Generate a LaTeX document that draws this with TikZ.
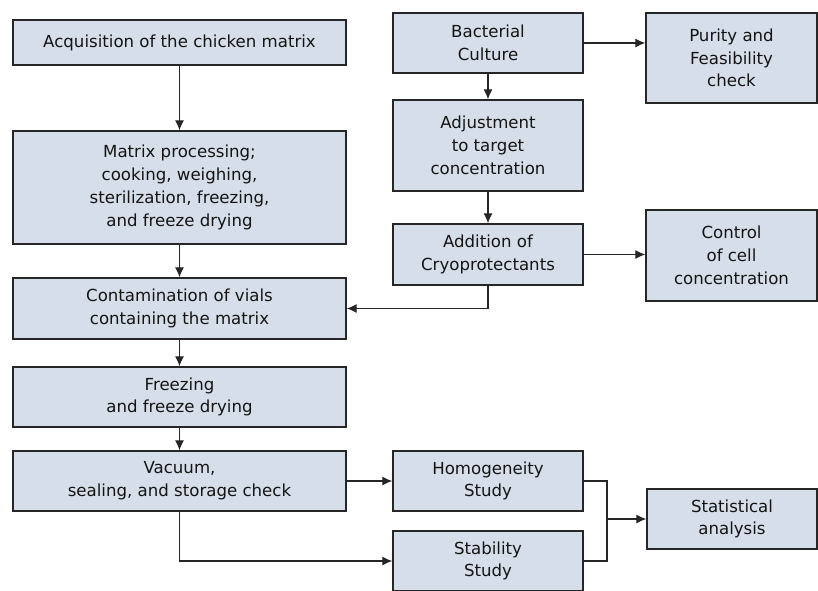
\documentclass[tikz,border=0pt]{standalone}
\usepackage{fontspec}
\setmainfont{DejaVu Sans}
\usetikzlibrary{arrows.meta}
\definecolor{boxfill}{HTML}{D6DFE9}
\definecolor{edge}{HTML}{262626}
\tikzset{
  bx/.style={draw=edge, fill=boxfill, line width=1.3pt, inner sep=0pt, align=center,
    font=\fontsize{16.6}{22.8}\selectfont, text=black!92},
  conn/.style={draw=edge, line width=1.2pt, -{Latex[length=10pt,width=9pt]}},
  plain/.style={draw=edge, line width=1.2pt}
}
\begin{document}
\begin{tikzpicture}[x=1pt,y=-1pt]
\useasboundingbox (0,0) rectangle (818,590);
\clip (0,0) rectangle (818,590);
\node[bx, minimum width=333, minimum height=45] (acq) at (179.5,42.5) {Acquisition of the chicken matrix};
\node[bx, minimum width=333, minimum height=113] (mat) at (179.5,187.5) {Matrix processing;\\cooking, weighing,\\sterilization, freezing,\\and freeze drying};
\node[bx, minimum width=333, minimum height=61] (cont) at (179.5,308.5) {Contamination of vials\\containing the matrix};
\node[bx, minimum width=333, minimum height=60] (frz) at (179.5,397) {Freezing\\and freeze drying};
\node[bx, minimum width=333, minimum height=60] (vac) at (179.5,481) {Vacuum,\\sealing, and storage check};
\node[bx, minimum width=190, minimum height=60] (bac) at (488,43) {Bacterial\\Culture};
\node[bx, minimum width=190, minimum height=91] (adj) at (488,145.5) {Adjustment\\to target\\concentration};
\node[bx, minimum width=190, minimum height=61] (add) at (488,254.5) {Addition of\\Cryoprotectants};
\node[bx, minimum width=190, minimum height=60] (hom) at (488,481) {Homogeneity\\Study};
\node[bx, minimum width=190, minimum height=60] (sta) at (488,561) {Stability\\Study};
\node[bx, minimum width=171, minimum height=90] (pur) at (731.5,58) {Purity and\\Feasibility\\check};
\node[bx, minimum width=171, minimum height=91] (ctl) at (731.5,255.5) {Control\\of cell\\concentration};
\node[bx, minimum width=170, minimum height=60] (stat) at (732,519) {Statistical\\analysis};
\draw[conn] (acq) -- (mat);
\draw[conn] (mat) -- (cont);
\draw[conn] (cont) -- (frz);
\draw[conn] (frz) -- (vac);
\draw[conn] (bac) -- (adj);
\draw[conn] (adj) -- (add);
\draw[conn] (bac.east) -- (bac.east -| pur.west);
\draw[conn] (add.east) -- (add.east -| ctl.west);
\draw[conn] (add.south) |- (cont.east);
\draw[conn] (vac.east) -- (hom.west);
\draw[conn] (vac.south) |- (sta.west);
\coordinate (j) at (607,519);
\draw[plain] (hom.east) -| (j) |- (sta.east);
\draw[conn] (j) -- (stat.west);
\end{tikzpicture}
\end{document}
